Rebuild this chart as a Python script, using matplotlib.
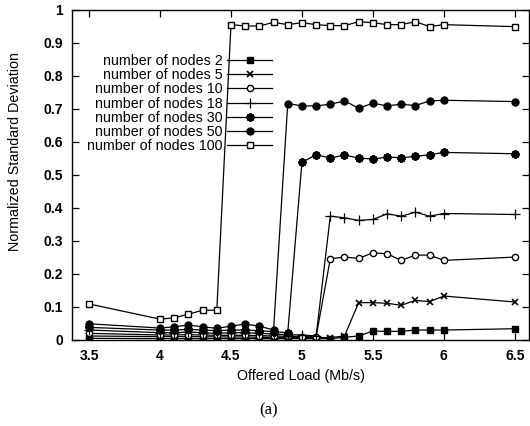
import matplotlib
matplotlib.use("Agg")
import matplotlib.pyplot as plt
from matplotlib.ticker import FormatStrFormatter, MultipleLocator

plt.rcParams["font.family"] = ["Liberation Sans", "DejaVu Sans"]

# offered load (Mb/s)
load = [3.5, 4.0, 4.1, 4.2, 4.3, 4.4, 4.5, 4.6, 4.7, 4.8, 4.9, 5.0,
        5.1, 5.2, 5.3, 5.4, 5.5, 5.6, 5.7, 5.8, 5.9, 6.0, 6.5]

# normalized standard deviation per network size
nodes2 = [0.005, 0.004, 0.004, 0.004, 0.004, 0.004, 0.004, 0.004, 0.004, 0.004, 0.004, 0.004,
          0.004, 0.004, 0.008, 0.012, 0.027, 0.026, 0.026, 0.030, 0.030, 0.030, 0.034]
nodes5 = [0.012, 0.010, 0.010, 0.010, 0.010, 0.009, 0.009, 0.009, 0.008, 0.008, 0.008, 0.007,
          0.007, 0.007, 0.012, 0.113, 0.113, 0.111, 0.105, 0.120, 0.116, 0.133, 0.115]
nodes10 = [0.020, 0.015, 0.015, 0.016, 0.015, 0.014, 0.014, 0.014, 0.013, 0.012, 0.011, 0.010,
           0.010, 0.246, 0.251, 0.247, 0.264, 0.261, 0.241, 0.257, 0.257, 0.241, 0.251]
nodes18 = [0.030, 0.022, 0.022, 0.024, 0.022, 0.020, 0.022, 0.022, 0.020, 0.018, 0.016, 0.015,
           0.012, 0.375, 0.370, 0.362, 0.365, 0.382, 0.375, 0.387, 0.375, 0.383, 0.380]
nodes30 = [0.038, 0.030, 0.030, 0.032, 0.030, 0.028, 0.030, 0.030, 0.028, 0.025, 0.022, 0.538,
           0.561, 0.551, 0.560, 0.551, 0.548, 0.554, 0.552, 0.556, 0.561, 0.568, 0.564]
nodes50 = [0.049, 0.036, 0.040, 0.045, 0.040, 0.035, 0.042, 0.048, 0.042, 0.030, 0.716, 0.709,
           0.709, 0.714, 0.724, 0.702, 0.717, 0.709, 0.714, 0.710, 0.724, 0.726, 0.722]
nodes100 = [0.109, 0.063, 0.067, 0.078, 0.090, 0.090, 0.955, 0.951, 0.951, 0.962, 0.955, 0.961,
            0.955, 0.952, 0.952, 0.964, 0.961, 0.955, 0.955, 0.964, 0.949, 0.955, 0.949]

labels = ["number of nodes 2", "number of nodes 5", "number of nodes 10",
          "number of nodes 18", "number of nodes 30", "number of nodes 50",
          "number of nodes 100"]
xticks = [3.5, 4, 4.5, 5, 5.5, 6, 6.5]

fig = plt.figure(figsize=(5.3, 4.26), dpi=100)
ax = fig.add_axes([0.136, 0.202, 0.862, 0.775])

series = [nodes2, nodes5, nodes10, nodes18, nodes30, nodes50, nodes100]
styles = [
    dict(marker="s", ms=4.5, mfc="black"),
    dict(marker="x", ms=5, mew=1.2),
    dict(marker="o", ms=4.5, mfc="white", mew=1.0),
    dict(marker="+", ms=6.5, mew=0.9),
    dict(marker=(8, 2, 0), ms=6, mew=1.6),
    dict(marker="o", ms=5, mfc="black"),
    dict(marker="s", ms=5, mfc="white", mew=1.0),
]
for vals, lab, st in zip(series, labels, styles):
    ax.plot(load, vals, color="black", lw=0.9, mec="black", label=lab, **st)

ax.set_xlim(3.38, 6.6)
ax.set_ylim(0, 1)
ax.set_xticks(xticks)
ax.yaxis.set_major_locator(MultipleLocator(0.1))
ax.xaxis.set_major_formatter(FormatStrFormatter("%g"))
ax.yaxis.set_major_formatter(FormatStrFormatter("%g"))
ax.tick_params(direction="in", length=5, width=0.9, top=True, right=True,
               labelsize=10, pad=6.5)
for t in ax.get_xticklabels() + ax.get_yticklabels():
    t.set_fontweight("bold")
for s in ax.spines.values():
    s.set_linewidth(1.0)

ax.set_xlabel("Offered Load (Mb/s)", fontsize=10.3, labelpad=4)
ax.set_ylabel("Normalized Standard Deviation", fontsize=10.3)
ax.yaxis.set_label_coords(-0.109, 0.57)

leg = ax.legend(loc="upper right", bbox_to_anchor=(0.437, 0.867), frameon=False,
                markerfirst=False, fontsize=10.3, handlelength=3.1,
                handletextpad=0.35, labelspacing=0.02, borderpad=0,
                borderaxespad=0)

fig.text(0.506, 1 - 410 / 426, "(a)", family="Liberation Serif", fontsize=12,
         ha="center", va="center")

fig.savefig("out.png", dpi=100)
